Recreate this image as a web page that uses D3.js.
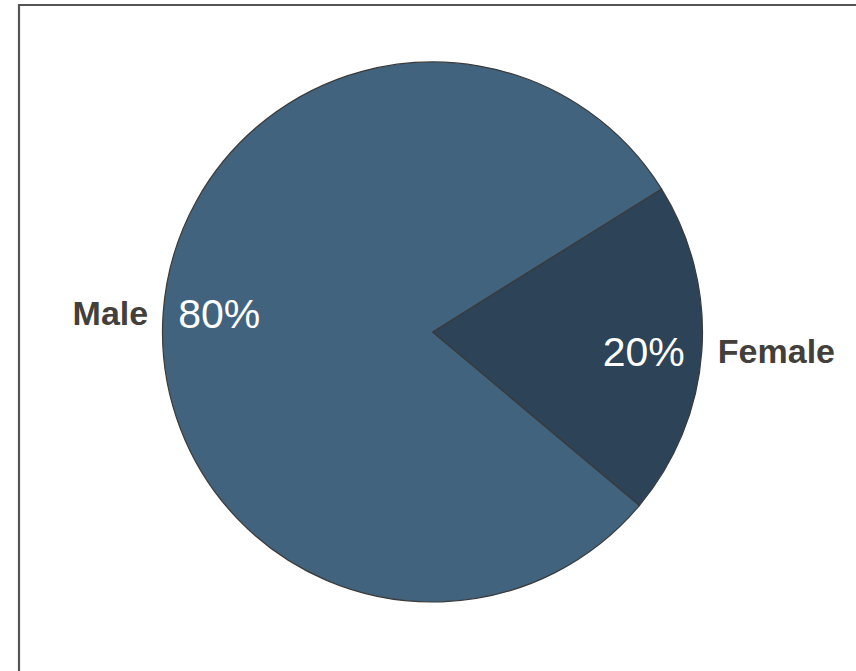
<!DOCTYPE html>
<html>
<head>
<meta charset="utf-8">
<script src="https://cdn.jsdelivr.net/npm/d3@7"></script>
<style>
  html, body { margin: 0; padding: 0; background: #fff; }
  svg { display: block; font-family: "Liberation Sans", Arial, sans-serif; }
</style>
</head>
<body>
<svg id="chart" width="856" height="671"></svg>
<script>
// Gender split
const categories = ["Female", "Male"];
const values = [20, 80];
const colors = ["#2d4357", "#41637e"];

const width = 856, height = 671;
const cx = 432.5, cy = 332, radius = 270;

const svg = d3.select("#chart");

// Chart frame (open on the right and bottom)
svg.append("path")
  .attr("d", `M19,${height + 2}V5H${width + 2}`)
  .attr("fill", "none")
  .attr("stroke", "#555")
  .attr("stroke-width", 2.2);

const deg = Math.PI / 180;
const pie = d3.pie().sort(null).value(d => d.value)
  .startAngle(58 * deg).endAngle(418 * deg);
const data = categories.map((c, i) => ({ name: c, value: values[i], color: colors[i] }));
const arcs = pie(data);
const total = d3.sum(values);

const arc = d3.arc().innerRadius(0).outerRadius(radius);

const g = svg.append("g").attr("transform", `translate(${cx},${cy})`);

g.selectAll("path.slice")
  .data(arcs)
  .join("path")
  .attr("class", "slice")
  .attr("d", arc)
  .attr("fill", d => d.data.color)
  .attr("stroke", "#3a3a3a")
  .attr("stroke-width", 1.2);

// Labels: category name just outside the rim, percentage just inside
arcs.forEach(d => {
  const mid = (d.startAngle + d.endAngle) / 2;
  const ux = Math.sin(mid), uy = -Math.cos(mid);
  const right = ux > 0;
  const px = ux * radius, py = uy * radius;

  g.append("text")
    .attr("x", px + (right ? 16 : -15))
    .attr("y", py)
    .attr("dy", "0.36em")
    .attr("text-anchor", right ? "start" : "end")
    .attr("font-size", 34)
    .attr("font-weight", "bold")
    .attr("fill", "#433f3b")
    .text(d.data.name);

  g.append("text")
    .attr("x", px + (right ? -17 : 15))
    .attr("y", py)
    .attr("dy", "0.36em")
    .attr("text-anchor", right ? "end" : "start")
    .attr("font-size", 41)
    .attr("fill", "#ffffff")
    .text(d3.format(".0%")(d.data.value / total));
});
</script>
</body>
</html>
